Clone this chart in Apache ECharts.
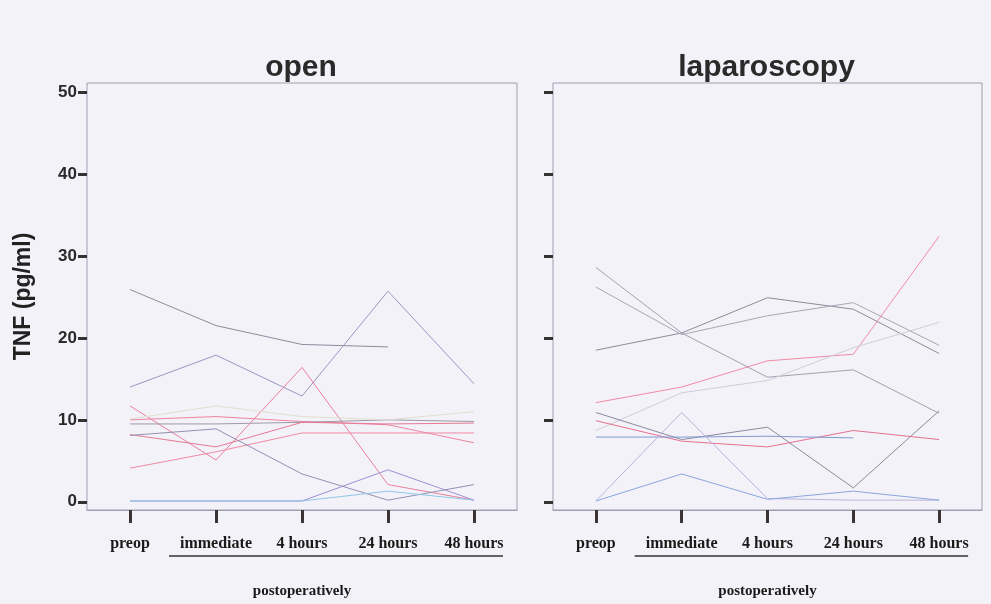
<!DOCTYPE html>
<html><head><meta charset="utf-8">
<script src="https://cdn.jsdelivr.net/npm/echarts@6/dist/echarts.min.js"></script>
<style>html,body{margin:0;padding:0;background:#f3f2f8}#c{width:991px;height:604px}</style>
</head><body><div id="c"></div><script>
// ---- data ----
const categories = ['preop', 'immediate', '4 hours', '24 hours', '48 hours'];
const yTicks = [0, 10, 20, 30, 40, 50];
const panelTitles = ['open', 'laparoscopy'];
const xTitle = 'postoperatively';
const yTitle = 'TNF (pg/ml)';

// open surgery, one array per patient
const open01 = [25.9, 21.5, 19.2, 18.9, null];
const open02 = [14.0, 17.9, 12.9, 25.7, 14.4];
const open03 = [11.7, 5.1, 16.4, 2.1, 0.2];
const open04 = [4.1, 6.1, 8.4, 8.4, 8.4];
const open05 = [10.0, 10.4, 9.8, 9.4, 7.2];
const open06 = [9.5, 9.5, 9.7, 10.0, 9.8];
const open07 = [8.2, 6.7, 9.7, 9.5, 9.6];
const open08 = [8.1, 8.9, 3.4, 0.2, 2.1];
const open09 = [0.1, 0.1, 0.1, 3.9, 0.2];
const open10 = [0.1, 0.1, 0.1, 1.3, 0.2];
const open11 = [10.1, 11.7, 10.4, 10.0, 11.0];

// laparoscopy, one array per patient
const lap01 = [28.6, 20.6, 15.2, 16.1, 10.8];
const lap02 = [18.5, 20.6, 24.9, 23.5, 18.1];
const lap03 = [26.2, 20.4, 22.7, 24.3, 19.1];
const lap04 = [12.1, 14.0, 17.2, 18.0, 32.4];
const lap05 = [8.7, 13.3, 14.8, 18.8, 21.9];
const lap06 = [10.9, 7.6, 9.1, 1.7, 11.1];
const lap07 = [9.9, 7.4, 6.7, 8.7, 7.6];
const lap08 = [7.9, 7.9, 8.0, 7.8, null];
const lap09 = [0.1, 10.9, 0.4, 0.2, 0.2];
const lap10 = [0.1, 3.4, 0.3, 1.3, 0.2];

// ---- styles ----
const openLines = [
  [open01, '#8e8c9e'], [open02, '#9c96c2'], [open03, '#ec7f9e'], [open04, '#f08aa6'],
  [open05, '#ee85a2'], [open06, '#9e9aa6'], [open07, '#e77a98'], [open08, '#9490b4'],
  [open09, '#a08fd6'], [open10, '#8fc8e8'], [open11, '#e2dfcf']
];
const lapLines = [
  [lap01, '#a3a1b0'], [lap02, '#8e8c9c'], [lap03, '#a9a7b6'], [lap04, '#f08aa8'],
  [lap05, '#cfcdda'], [lap06, '#8c8a9e'], [lap07, '#e8708f'], [lap08, '#7f9bd0'],
  [lap09, '#b9b4dc'], [lap10, '#8aa6e0']
];

const grids = [
  { left: 87, top: 83, width: 430, height: 427 },
  { left: 553, top: 83, width: 429, height: 427 }
];

const series = [];
openLines.forEach(([d, c]) => series.push({
  type: 'line', xAxisIndex: 0, yAxisIndex: 0, data: d, symbol: 'none',
  connectNulls: false, lineStyle: { width: 1, color: c }, silent: true
}));
lapLines.forEach(([d, c]) => series.push({
  type: 'line', xAxisIndex: 1, yAxisIndex: 1, data: d, symbol: 'none',
  connectNulls: false, lineStyle: { width: 1, color: c }, silent: true
}));

function xAxis(i) {
  return {
    type: 'category', gridIndex: i, data: categories, boundaryGap: true, position: 'bottom',
    axisLine: { show: true, onZero: false, lineStyle: { color: '#a09eb0', width: 1 } },
    axisTick: { show: true, inside: false, interval: 0, alignWithLabel: true, length: 13, lineStyle: { width: 3, color: '#3a3434' } },
    axisLabel: { interval: 0, margin: 26, fontFamily: 'Liberation Serif', fontWeight: 'bold', fontSize: 16, color: '#1a1a1a' },
    name: xTitle, nameLocation: 'middle', nameGap: 74,
    nameTextStyle: { fontFamily: 'Liberation Serif', fontWeight: 'bold', fontSize: 15, color: '#1a1a1a' },
    splitLine: { show: false }
  };
}
function yAxis(i) {
  return {
    type: 'value', gridIndex: i, min: -1, max: 51.1,
    axisLine: { show: false },
    axisTick: { show: true, customValues: yTicks, length: 9, lineStyle: { width: 3, color: '#333' } },
    axisLabel: { show: i === 0, customValues: yTicks, margin: 10, fontFamily: 'Liberation Sans', fontWeight: 'bold', fontSize: 17, color: '#2a2a2a' },
    splitLine: { show: false },
    name: i === 0 ? yTitle : '', nameLocation: 'middle', nameGap: 52, nameRotate: 90,
    nameTextStyle: { fontFamily: 'Liberation Sans', fontWeight: 'bold', fontSize: 23, color: '#222' }
  };
}

const chart = echarts.init(document.getElementById('c'), null, { renderer: 'canvas' });
chart.setOption({
  backgroundColor: '#f3f2f8',
  animation: false,
  title: panelTitles.map((t, i) => ({
    text: t, left: grids[i].left + grids[i].width / 2 - 6, top: 48, textAlign: 'center',
    textStyle: { fontFamily: 'Liberation Sans', fontWeight: 'bold', fontSize: 30, color: '#2a2a2a' }
  })),
  grid: grids.map(g => Object.assign({ show: true, borderColor: '#a09eb0', borderWidth: 1, backgroundColor: 'transparent' }, g)),
  xAxis: [xAxis(0), xAxis(1)],
  yAxis: [yAxis(0), yAxis(1)],
  series: series
});

// underline below the postoperative time points
const lines = [0, 1].map(i => {
  const x1 = chart.convertToPixel({ xAxisIndex: i }, categories[1]) - 47;
  const x2 = chart.convertToPixel({ xAxisIndex: i }, categories[4]) + 29;
  return { type: 'line', shape: { x1: x1, y1: 556, x2: x2, y2: 556 }, style: { stroke: '#333', lineWidth: 1.5 }, silent: true };
});
chart.setOption({ graphic: lines });
</script></body></html>
